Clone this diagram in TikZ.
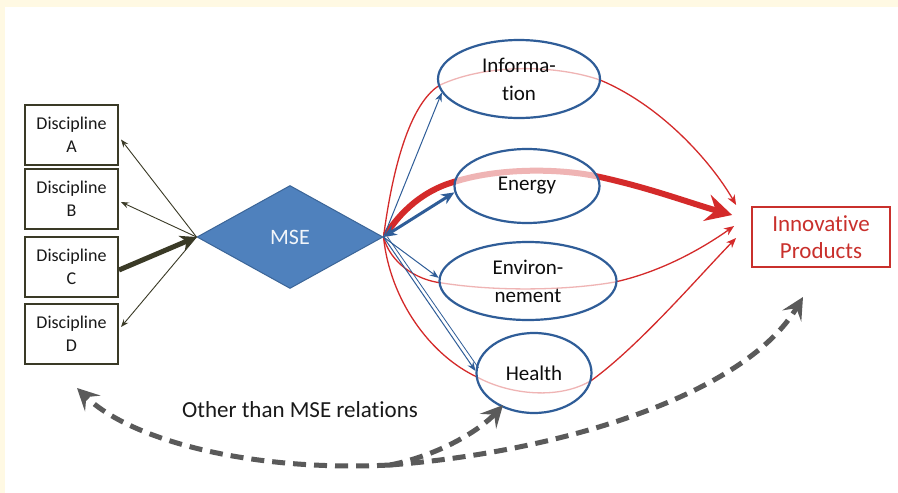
\documentclass[tikz,border=0pt]{standalone}
\usepackage{fontspec}
\setmainfont{Carlito}[Ligatures=NoCommon]
\usetikzlibrary{arrows.meta,shapes.geometric,calc}
\definecolor{cream}{HTML}{FFF9E3}
\definecolor{olive}{HTML}{3A3A26}
\definecolor{mseblue}{HTML}{4F81BD}
\definecolor{msedge}{HTML}{3B6598}
\definecolor{ringblue}{HTML}{2F5D98}
\definecolor{prodred}{HTML}{C9302C}
\definecolor{linkred}{HTML}{D42A2A}
\definecolor{dashgray}{HTML}{5A5A5A}
\pgfdeclarelayer{bg}
\pgfdeclarelayer{links}
\pgfsetlayers{bg,links,main}
\begin{document}
\begin{tikzpicture}[x=1pt,y=-1pt,
  discbox/.style={draw=olive, line width=2pt, fill=white, minimum width=93pt,
    minimum height=60pt, inner sep=0pt, align=center,
    font=\fontsize{18}{23}\selectfont, text=black!90},
  area/.style={ellipse, draw=ringblue, line width=2.2pt, fill=white,
    fill opacity=0.65, draw opacity=1, text opacity=1, inner sep=0pt, align=center,
    font=\fontsize{21}{28}\selectfont, text=black!95},
  redlink/.style={draw=linkred, line width=1.3pt,
    -{Stealth[length=10pt,width=8pt,inset=3pt]}},
  redthick/.style={draw=linkred, line width=6pt,
    -{Stealth[length=26pt,width=27pt,inset=9pt]}},
  bluelink/.style={draw=ringblue, line width=1pt,
    -{Stealth[length=9pt,width=7pt,inset=3pt]}},
  olivelink/.style={draw=olive, line width=0.9pt,
    -{Stealth[length=8pt,width=6pt,inset=3pt]}},
  otherlink/.style={draw=dashgray, line width=5pt, dash pattern=on 13pt off 8pt,
    -{Stealth[length=22pt,width=22pt,inset=9pt]}}
]
% page and panel
\begin{pgfonlayer}{bg}
  \fill[cream] (0,0) rectangle (898,493);
  \fill[white] (5,7) rectangle (898,493);
\end{pgfonlayer}

% disciplines
\node[discbox] (a) at (71.5,134.5) {Discipline\\A};
\node[discbox] (b) at (71.5,199) {Discipline\\B};
\node[discbox] (c) at (71.5,267) {Discipline\\C};
\node[discbox] (d) at (71.5,334) {Discipline\\D};

% MSE
\node[diamond, aspect=1.8, fill=mseblue, draw=msedge, line width=1pt,
  minimum width=186pt, minimum height=103pt, inner sep=0pt,
  text=white!92!mseblue, font=\fontsize{22}{26}\selectfont] (mse) at (290,237) {MSE};

% application areas
\node[area, minimum width=162pt, minimum height=78pt] (info) at (519,79) {Informa-\\tion};
\node[area, minimum width=145pt, minimum height=74pt] (energy) at (527,186) {Energy};
\node[area, minimum width=177pt, minimum height=78pt] (env) at (528,281) {Environ-\\nement};
\node[area, minimum width=115pt, minimum height=80pt] (health) at (534,373) {Health};

% products
\node[draw=prodred, line width=1.8pt, fill=white, minimum width=138pt,
  minimum height=60pt, inner sep=0pt, align=center, text=prodred,
  font=\fontsize{23}{27}\selectfont] (prod) at (821,237) {Innovative\\Products};

% discipline links
\draw[olivelink] (mse.west) -- ($(a.east)+(2,5)$);
\draw[olivelink] (mse.west) -- ($(b.east)+(2,3)$);
\draw[olivelink] (mse.west) -- ($(d.east)+(2,-7)$);
\draw[draw=olive, line width=5pt, -{Stealth[length=16pt,width=16pt,inset=5pt]}]
  ($(c.east)+(0,3)$) -- (mse.west);

% red paths through the areas to the products
\begin{pgfonlayer}{links}
  \draw[redlink] (mse.east) .. controls (395,150) and (415,100) .. (440,85)
    .. controls (490,62) and (560,66) .. (600,80)
    .. controls (660,105) and (710,160) .. ($(prod.west)+(-15,-32)$);
  \draw[redthick] ($(mse.east)+(2,-2)$) .. controls (405,205) and (430,188) .. (457,181)
    .. controls (500,168) and (560,168) .. (600,177)
    .. controls (650,188) and (690,203) .. ($(prod.west)+(-19,-22)$);
  \draw[redlink] (mse.east) .. controls (390,262) and (415,280) .. (442,283)
    .. controls (500,292) and (570,290) .. (615,282)
    .. controls (660,272) and (700,250) .. ($(prod.west)+(-17,-11)$);
  \draw[redlink] (mse.east) .. controls (390,300) and (430,355) .. (477,377)
    .. controls (510,395) and (560,400) .. (592,380)
    .. controls (640,345) and (700,275) .. ($(prod.west)+(-15,1)$);
\end{pgfonlayer}

% blue links from MSE to the areas
\draw[bluelink] (mse.east) -- (info.190);
\draw[draw=ringblue, line width=3pt,
  {Stealth[length=13pt,width=11pt,inset=4pt]}-{Stealth[length=13pt,width=11pt,inset=4pt]}]
  (mse.east) -- (energy.185);
\draw[bluelink] (mse.east) -- (env.178);
\draw[bluelink] (mse.east) -- (health.178);
\draw[draw=ringblue, line width=0.8pt] ($(mse.east)+(4,0)$) -- ($(health.178)+(3,-3)$);

% other relations
\coordinate (olow) at (390,465);
\coordinate (oleft) at (77,388);
\coordinate (oright) at (803,297);
\draw[otherlink] (olow) .. controls (250,472) and (130,440) .. (oleft);
\draw[otherlink] (olow) .. controls (440,455) and (480,430) .. ($(health.south)+(-31,-9)$);
\draw[otherlink] (olow) .. controls (560,452) and (745,395) .. (oright);
\node[font=\fontsize{23}{26}\selectfont, text=black!90] (other) at (300,410) {Other than MSE relations};
\end{tikzpicture}
\end{document}
